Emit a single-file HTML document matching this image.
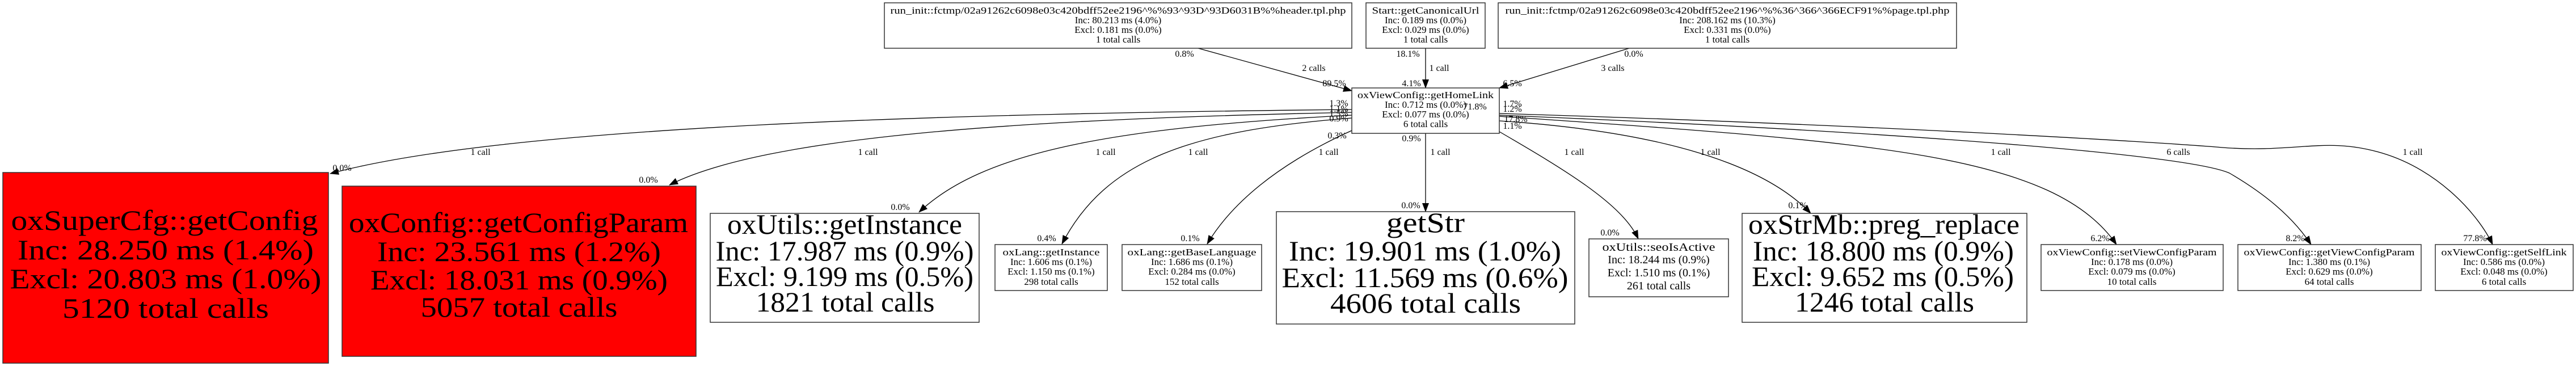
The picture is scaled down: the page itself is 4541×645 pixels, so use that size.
<!DOCTYPE html>
<html><head><meta charset="utf-8"><style>
html,body{margin:0;padding:0;background:#fff;}
svg{display:block;}
text{font-family:"Liberation Serif",serif;fill:#000;}
</style></head><body>
<svg width="4541" height="645" viewBox="0 0 4541 645" xmlns="http://www.w3.org/2000/svg">
<defs>
<marker id="a" markerUnits="userSpaceOnUse" markerWidth="16" markerHeight="12" refX="15" refY="6" orient="auto">
<path d="M0,0 L16,6 L0,12 z" fill="#000"/>
</marker>
</defs>
<g fill="none" stroke="#000" stroke-width="1.3" marker-end="url(#a)">
<path d="M2112,85 L2383,160"/>
<path d="M2513,85 L2513,155"/>
<path d="M2872,85 L2643,155"/>
<path d="M2383,193 C1700,200 900,220 582,306"/>
<path d="M2383,198 C1800,210 1350,240 1180,326"/>
<path d="M2383,203 C1950,225 1730,270 1620,374"/>
<path d="M2383,208 C2100,230 1950,280 1872,430"/>
<path d="M2383,230 C2250,290 2170,360 2128,430"/>
<path d="M2513,235 L2513,373"/>
<path d="M2643,232 C2760,300 2860,360 2888,421"/>
<path d="M2643,213 C2900,230 3100,280 3192,376"/>
<path d="M2643,205 C3300,250 3620,270 3731,431"/>
<path d="M2643,203 C3300,230 3850,270 3930,305 C3990,340 4040,380 4074,431"/>
<path d="M2643,200 C3300,220 3800,250 3918,260 C4050,270 4100,240 4200,270 C4300,300 4370,380 4394,431"/>
</g>
<g stroke="#333" stroke-width="1.5">
<rect x="5" y="304" width="574" height="336" fill="#ff0000"/>
<rect x="603" y="328" width="624" height="300" fill="#ff0000"/>
<rect x="1252" y="376" width="474" height="192" fill="#fff"/>
<rect x="1559" y="5" width="824" height="80" fill="#fff"/>
<rect x="2408" y="5" width="210" height="80" fill="#fff"/>
<rect x="2641" y="5" width="808" height="80" fill="#fff"/>
<rect x="2383" y="155" width="260" height="80" fill="#fff"/>
<rect x="1754" y="431" width="198" height="81" fill="#fff"/>
<rect x="1978" y="431" width="246" height="81" fill="#fff"/>
<rect x="2250" y="373" width="526" height="198" fill="#fff"/>
<rect x="2801" y="421" width="246" height="102" fill="#fff"/>
<rect x="3071" y="376" width="502" height="192" fill="#fff"/>
<rect x="3598" y="431" width="321" height="81" fill="#fff"/>
<rect x="3945" y="431" width="323" height="81" fill="#fff"/>
<rect x="4293" y="431" width="243" height="81" fill="#fff"/>
</g>
<g text-anchor="middle" font-size="50" lengthAdjust="spacingAndGlyphs">
<text x="290" y="405" textLength="541" lengthAdjust="spacingAndGlyphs">oxSuperCfg::getConfig</text>
<text x="292" y="457" textLength="522" lengthAdjust="spacingAndGlyphs">Inc: 28.250 ms (1.4%)</text>
<text x="292" y="508" textLength="549" lengthAdjust="spacingAndGlyphs">Excl: 20.803 ms (1.0%)</text>
<text x="292" y="560" textLength="364" lengthAdjust="spacingAndGlyphs">5120 total calls</text>
<text x="914" y="409" textLength="598" lengthAdjust="spacingAndGlyphs">oxConfig::getConfigParam</text>
<text x="915" y="460" textLength="500" lengthAdjust="spacingAndGlyphs">Inc: 23.561 ms (1.2%)</text>
<text x="915" y="510" textLength="524" lengthAdjust="spacingAndGlyphs">Excl: 18.031 ms (0.9%)</text>
<text x="915" y="558" textLength="347" lengthAdjust="spacingAndGlyphs">5057 total calls</text>
<text x="1489" y="412" textLength="414" lengthAdjust="spacingAndGlyphs">oxUtils::getInstance</text>
<text x="1489" y="459" textLength="455" lengthAdjust="spacingAndGlyphs">Inc: 17.987 ms (0.9%)</text>
<text x="1489" y="504" textLength="454" lengthAdjust="spacingAndGlyphs">Excl: 9.199 ms (0.5%)</text>
<text x="1490" y="549" textLength="315" lengthAdjust="spacingAndGlyphs">1821 total calls</text>
<text x="2513" y="409" textLength="138" lengthAdjust="spacingAndGlyphs">getStr</text>
<text x="2512" y="459" textLength="480" lengthAdjust="spacingAndGlyphs">Inc: 19.901 ms (1.0%)</text>
<text x="2512" y="506" textLength="505" lengthAdjust="spacingAndGlyphs">Excl: 11.569 ms (0.6%)</text>
<text x="2513" y="551" textLength="336" lengthAdjust="spacingAndGlyphs">4606 total calls</text>
<text x="3321" y="412" textLength="478" lengthAdjust="spacingAndGlyphs">oxStrMb::preg_replace</text>
<text x="3320" y="459" textLength="460" lengthAdjust="spacingAndGlyphs">Inc: 18.800 ms (0.9%)</text>
<text x="3319" y="504" textLength="462" lengthAdjust="spacingAndGlyphs">Excl: 9.652 ms (0.5%)</text>
<text x="3322" y="549" textLength="316" lengthAdjust="spacingAndGlyphs">1246 total calls</text>
</g>
<g text-anchor="middle" font-size="17">
<text x="1971" y="24" textLength="803" lengthAdjust="spacingAndGlyphs">run_init::fctmp/02a91262c6098e03c420bdff52ee2196^%%93^93D^93D6031B%%header.tpl.php</text>
<text x="1971" y="41">Inc: 80.213 ms (4.0%)</text>
<text x="1971" y="58">Excl: 0.181 ms (0.0%)</text>
<text x="1971" y="75">1 total calls</text>
<text x="2513" y="24" textLength="189" lengthAdjust="spacingAndGlyphs">Start::getCanonicalUrl</text>
<text x="2513" y="41">Inc: 0.189 ms (0.0%)</text>
<text x="2513" y="58">Excl: 0.029 ms (0.0%)</text>
<text x="2513" y="75">1 total calls</text>
<text x="3045" y="24" textLength="783" lengthAdjust="spacingAndGlyphs">run_init::fctmp/02a91262c6098e03c420bdff52ee2196^%%36^366^366ECF91%%page.tpl.php</text>
<text x="3045" y="41">Inc: 208.162 ms (10.3%)</text>
<text x="3045" y="58">Excl: 0.331 ms (0.0%)</text>
<text x="3045" y="75">1 total calls</text>
<text x="2513" y="173" textLength="240" lengthAdjust="spacingAndGlyphs">oxViewConfig::getHomeLink</text>
<text x="2513" y="190">Inc: 0.712 ms (0.0%)</text>
<text x="2513" y="207">Excl: 0.077 ms (0.0%)</text>
<text x="2513" y="224">6 total calls</text>
<text x="1853" y="450" textLength="171" lengthAdjust="spacingAndGlyphs">oxLang::getInstance</text>
<text x="1853" y="467">Inc: 1.606 ms (0.1%)</text>
<text x="1853" y="484">Excl: 1.150 ms (0.1%)</text>
<text x="1853" y="502">298 total calls</text>
<text x="2101" y="450" textLength="227" lengthAdjust="spacingAndGlyphs">oxLang::getBaseLanguage</text>
<text x="2101" y="467">Inc: 1.686 ms (0.1%)</text>
<text x="2101" y="484">Excl: 0.284 ms (0.0%)</text>
<text x="2101" y="502">152 total calls</text>
<text x="3758" y="450" textLength="299" lengthAdjust="spacingAndGlyphs">oxViewConfig::setViewConfigParam</text>
<text x="3758" y="467">Inc: 0.178 ms (0.0%)</text>
<text x="3758" y="484">Excl: 0.079 ms (0.0%)</text>
<text x="3758" y="502">10 total calls</text>
<text x="4106" y="450" textLength="301" lengthAdjust="spacingAndGlyphs">oxViewConfig::getViewConfigParam</text>
<text x="4106" y="467">Inc: 1.380 ms (0.1%)</text>
<text x="4106" y="484">Excl: 0.629 ms (0.0%)</text>
<text x="4106" y="502">64 total calls</text>
<text x="4414" y="450" textLength="221" lengthAdjust="spacingAndGlyphs">oxViewConfig::getSelfLink</text>
<text x="4414" y="467">Inc: 0.586 ms (0.0%)</text>
<text x="4414" y="484">Excl: 0.048 ms (0.0%)</text>
<text x="4414" y="502">6 total calls</text>
</g>
<g text-anchor="middle" font-size="20">
<text x="2924" y="442" textLength="199" lengthAdjust="spacingAndGlyphs">oxUtils::seoIsActive</text>
<text x="2924" y="464">Inc: 18.244 ms (0.9%)</text>
<text x="2924" y="487">Excl: 1.510 ms (0.1%)</text>
<text x="2924" y="510">261 total calls</text>
</g>
<g text-anchor="middle" font-size="16">
<text x="847" y="273">1 call</text>
<text x="1530" y="273">1 call</text>
<text x="1949" y="273">1 call</text>
<text x="2112" y="273">1 call</text>
<text x="2342" y="273">1 call</text>
<text x="2539" y="273">1 call</text>
<text x="2775" y="273">1 call</text>
<text x="3015" y="273">1 call</text>
<text x="3527" y="273">1 call</text>
<text x="3840" y="273">6 calls</text>
<text x="4253" y="273">1 call</text>
<text x="2316" y="125">2 calls</text>
<text x="2537" y="125">1 call</text>
<text x="2843" y="125">3 calls</text>
<text x="2088" y="100">0.8%</text>
<text x="2482" y="100">18.1%</text>
<text x="2880" y="100">0.0%</text>
<text x="2352" y="152">89.5%</text>
<text x="2488" y="152">4.1%</text>
<text x="2666" y="152">6.5%</text>
<text x="2360" y="187">1.3%</text>
<text x="2360" y="197">1.1%</text>
<text x="2360" y="205">1.5%</text>
<text x="2360" y="214">0.9%</text>
<text x="2357" y="244">0.3%</text>
<text x="2488" y="249">0.9%</text>
<text x="2600" y="193">71.8%</text>
<text x="2666" y="188">1.7%</text>
<text x="2666" y="197">1.2%</text>
<text x="2672" y="215">17.8%</text>
<text x="2666" y="227">1.1%</text>
<text x="603" y="301">0.0%</text>
<text x="1143" y="322">0.0%</text>
<text x="1587" y="370">0.0%</text>
<text x="1845" y="425">0.4%</text>
<text x="2098" y="425">0.1%</text>
<text x="2487" y="367">0.0%</text>
<text x="2838" y="415">0.0%</text>
<text x="3169" y="367">0.1%</text>
<text x="3702" y="425">6.2%</text>
<text x="4046" y="425">8.2%</text>
<text x="4363" y="425">77.8%</text>
</g>
</svg>
</body></html>
